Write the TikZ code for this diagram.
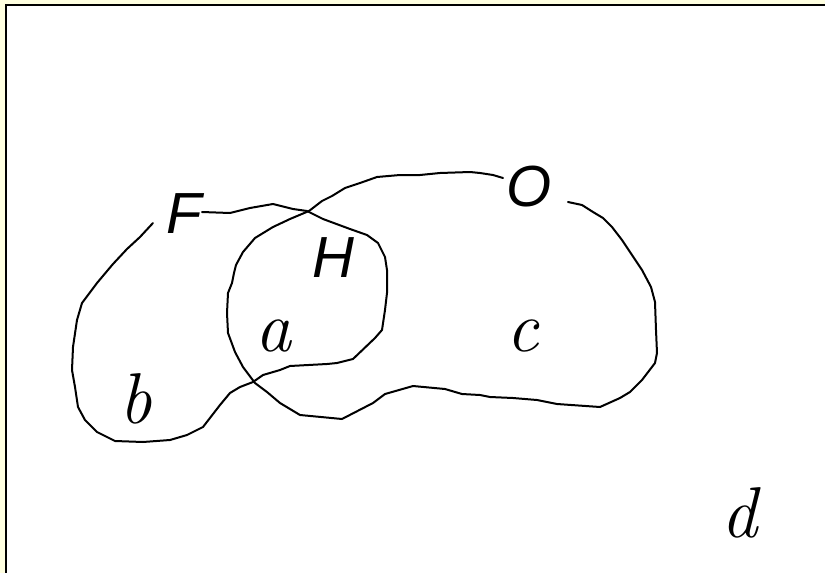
\documentclass[tikz,border=0pt]{standalone}
\usepackage{fontspec}
\newfontfamily\lsansit{Liberation Sans Italic}
\newfontfamily\lmit{Latin Modern Roman 10 Italic}
\definecolor{bgyellow}{RGB}{255,255,224}
\begin{document}
\begin{tikzpicture}[x=1pt,y=-1pt,
  loopline/.style={line width=2pt,line join=round,line cap=round,black},
  caplabel/.style={inner sep=0pt,font=\fontsize{58}{64}\lsansit\selectfont},
  letlabel/.style={inner sep=0pt,font=\fontsize{72}{80}\lmit\selectfont}]
\useasboundingbox (0,0) rectangle (825,573);
\fill[bgyellow] (0,0) rectangle (825,573);
\fill[white] (6,5) rectangle (825,573);
\draw[line width=2.2pt] (6,573) -- (6,5) -- (825,5);
% F loop
\draw[loopline] (202,212) -- (230,213) -- (250,208) -- (273,204) -- (293,209) -- (307,211) -- (323,219) -- (350,229) -- (367,235) -- (378,243) -- (385,257) -- (387,270) -- (387,293) -- (385,310) -- (382,330) -- (375,338) -- (353,359) -- (337,363) -- (327,364) -- (290,366) -- (280,370) -- (263,375) -- (253,382) -- (240,387) -- (230,393) -- (220,405) -- (203,427) -- (187,435) -- (170,440) -- (143,442) -- (115,441) -- (97,432) -- (85,420) -- (78,407) -- (75,387) -- (72,370) -- (73,347) -- (77,320) -- (82,303) -- (97,283) -- (113,264) -- (127,249) -- (140,237) -- (153,223);
% O loop
\draw[loopline] (503,178) -- (493,175) -- (480,173) -- (470,172) -- (440,173) -- (420,175) -- (400,175) -- (377,177) -- (360,183) -- (345,188) -- (332,196) -- (322,201) -- (309,211) -- (290,219) -- (273,227) -- (255,238) -- (243,252) -- (236,265) -- (234,273) -- (232,283) -- (228,293) -- (227,313) -- (228,333) -- (235,352) -- (243,367) -- (255,383) -- (267,392) -- (280,403) -- (300,415) -- (342,419) -- (373,403) -- (385,394) -- (413,386) -- (445,389) -- (462,394) -- (480,395) -- (490,397) -- (513,398) -- (537,400) -- (557,404) -- (600,407) -- (620,398) -- (630,392) -- (642,380) -- (655,363) -- (657,353) -- (656,330) -- (655,302) -- (651,287) -- (642,270) -- (632,255) -- (622,240) -- (612,227) -- (603,218) -- (593,212) -- (582,205) -- (568,202);
% labels
\node[caplabel] (F) at (184,214) {F};
\node[caplabel] (H) at (333,258) {H};
\node[caplabel] (O) at (529,187) {O};
\node[letlabel] (a) at (273,336) {a};
\node[letlabel] (b) at (136,399) {b};
\node[letlabel] (c) at (523,336) {c};
\node[letlabel] (d) at (739,513) {d};
\end{tikzpicture}
\end{document}
